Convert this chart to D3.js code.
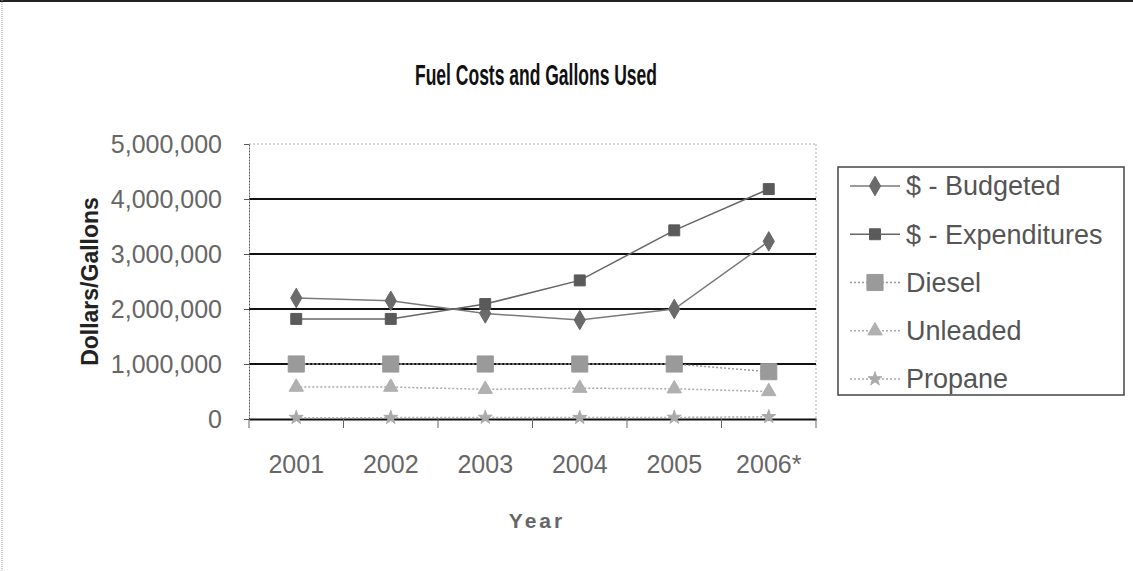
<!DOCTYPE html>
<html>
<head>
<meta charset="utf-8">
<script src="https://cdn.jsdelivr.net/npm/d3@7"></script>
<style>
  body { margin: 0; background: #fff; }
  text { font-family: Arial, "Liberation Sans", sans-serif; }
</style>
</head>
<body>
<script>
// data
const years = ['2001', '2002', '2003', '2004', '2005', '2006*'];
const budgeted = [2200000, 2150000, 1920000, 1800000, 2000000, 3230000];
const expenditures = [1820000, 1820000, 2090000, 2520000, 3430000, 4180000];
const diesel = [1000000, 1000000, 1000000, 1000000, 1000000, 860000];
const unleaded = [580000, 580000, 540000, 560000, 550000, 500000];
const propane = [25000, 25000, 28000, 25000, 28000, 40000];
const yTicks = [0, 1000000, 2000000, 3000000, 4000000, 5000000];

const width = 1133, height = 571;
const plot = {left: 249, right: 816, top: 144, bottom: 419};

const series = [
  {name: '$ - Budgeted', values: budgeted, line: '#7a7a7a', dash: null,
   sym: d3.symbolDiamond, size: 110, fill: '#6a6a6a'},
  {name: '$ - Expenditures', values: expenditures, line: '#666', dash: null,
   sym: d3.symbolSquare, size: 120, fill: '#5a5a5a'},
  {name: 'Diesel', values: diesel, line: '#999', dash: '2,2',
   sym: d3.symbolSquare, size: 260, fill: '#9a9a9a'},
  {name: 'Unleaded', values: unleaded, line: '#aaa', dash: '2,2',
   sym: d3.symbolTriangle, size: 90, fill: '#b0b0b0'},
  {name: 'Propane', values: propane, line: '#aaa', dash: '2,2',
   sym: d3.symbolStar, size: 60, fill: '#aaa'}
];

const svg = d3.select('body').append('svg').attr('width', width).attr('height', height)

// outer chart border
svg.append('line').attr('x1', 0).attr('x2', width).attr('y1', 1).attr('y2', 1)
   .attr('stroke', '#222').attr('stroke-width', 2)
svg.append('line').attr('x1', 2).attr('x2', 2).attr('y1', 0).attr('y2', height)
   .attr('stroke', '#999').attr('stroke-width', 1).attr('stroke-dasharray', '1,1')

const x = d3.scaleBand().domain(years).range([plot.left, plot.right]).padding(0)
const y = d3.scaleLinear().domain([0, 5000000]).range([plot.bottom, plot.top])
const cx = d => x(d) + x.bandwidth() / 2

// title (narrow, tall lettering like the original)
svg.append('text').attr('transform', 'translate(536,85) scale(0.7,1.2)').attr('text-anchor', 'middle')
   .attr('font-size', 25).attr('font-weight', 'bold').attr('fill', '#111')
   .text('Fuel Costs and Gallons Used')

// plot frame (top + right dotted)
svg.append('line').attr('x1', plot.left).attr('x2', plot.right).attr('y1', plot.top).attr('y2', plot.top)
   .attr('stroke', '#aaa').attr('stroke-dasharray', '2,2')
svg.append('line').attr('x1', plot.right).attr('x2', plot.right).attr('y1', plot.top).attr('y2', plot.bottom)
   .attr('stroke', '#aaa').attr('stroke-dasharray', '2,2')

// gridlines
svg.append('g').selectAll('line').data(yTicks.filter(d => d > 0 && d < 5000000)).join('line')
   .attr('x1', plot.left).attr('x2', plot.right)
   .attr('y1', d => y(d)).attr('y2', d => y(d))
   .attr('stroke', '#111').attr('stroke-width', 2)

// y axis
const yAxis = svg.append('g').attr('transform', 'translate(' + plot.left + ',0)')
   .call(d3.axisLeft(y).tickValues(yTicks).tickFormat(d3.format(',')).tickSize(5).tickSizeOuter(0))
yAxis.select('.domain').attr('stroke', '#555').attr('stroke-dasharray', '2,1')
yAxis.selectAll('.tick line').attr('stroke', '#555')
yAxis.selectAll('.tick text').attr('font-size', 25).attr('fill', '#666').attr('x', -27)
   .attr('font-family', 'Arial, "Liberation Sans", sans-serif')

// x axis
const xAxis = svg.append('g').attr('transform', 'translate(0,' + plot.bottom + ')')
   .call(d3.axisBottom(x).tickSize(0).tickSizeOuter(0))
xAxis.select('.domain').attr('stroke', '#111').attr('stroke-width', 2)
xAxis.selectAll('.tick text').attr('font-size', 25).attr('fill', '#666').attr('dy', 0).attr('y', 54)
   .attr('font-family', 'Arial, "Liberation Sans", sans-serif')
// category boundary ticks
svg.append('g').selectAll('line').data(years.concat(['end'])).join('line')
   .attr('x1', (d, i) => plot.left + i * x.bandwidth()).attr('x2', (d, i) => plot.left + i * x.bandwidth())
   .attr('y1', plot.bottom).attr('y2', plot.bottom + 9)
   .attr('stroke', '#666').attr('stroke-width', 1)

// axis titles
svg.append('text').attr('transform', 'translate(98,' + ((plot.top + plot.bottom) / 2) + ') rotate(-90)')
   .attr('text-anchor', 'middle').attr('font-size', 23).attr('font-weight', 'bold').attr('fill', '#222')
   .text('Dollars/Gallons')
svg.append('text').attr('x', 537).attr('y', 528).attr('text-anchor', 'middle')
   .attr('font-size', 21).attr('font-weight', 'bold').attr('fill', '#666').attr('letter-spacing', 3)
   .text('Year')

// series lines and markers
const line = d3.line().x((d, i) => cx(years[i])).y(d => y(d))
series.forEach(s => {
  svg.append('path').datum(s.values).attr('d', line)
     .attr('fill', 'none').attr('stroke', s.line).attr('stroke-width', 1.5)
     .attr('stroke-dasharray', s.dash)
  svg.append('g').selectAll('path').data(s.values).join('path')
     .attr('d', d3.symbol().type(s.sym).size(s.size))
     .attr('transform', (d, i) => 'translate(' + cx(years[i]) + ',' + y(d) + ')')
     .attr('fill', s.fill).attr('stroke', s.fill)
})

// legend
const lg = {x: 838, y: 167, w: 286, h: 228}
svg.append('rect').attr('x', lg.x).attr('y', lg.y).attr('width', lg.w).attr('height', lg.h)
   .attr('fill', 'none').attr('stroke', '#444').attr('stroke-width', 1.5)
const rowY = d3.scalePoint().domain(series.map(s => s.name)).range([lg.y + 19, lg.y + 212])
const item = svg.append('g').selectAll('g').data(series).join('g')
   .attr('transform', d => 'translate(' + lg.x + ',' + rowY(d.name) + ')')
item.append('line').attr('x1', 12).attr('x2', 62).attr('y1', 0).attr('y2', 0)
   .attr('stroke', d => d.line).attr('stroke-width', 1.5).attr('stroke-dasharray', d => d.dash)
item.append('path').attr('d', d => d3.symbol().type(d.sym).size(d.size)())
   .attr('transform', 'translate(37,0)').attr('fill', d => d.fill).attr('stroke', d => d.fill)
item.append('text').attr('x', 68).attr('dy', '0.35em').attr('font-size', 27).attr('fill', '#555')
   .text(d => d.name)
</script>
</body>
</html>
